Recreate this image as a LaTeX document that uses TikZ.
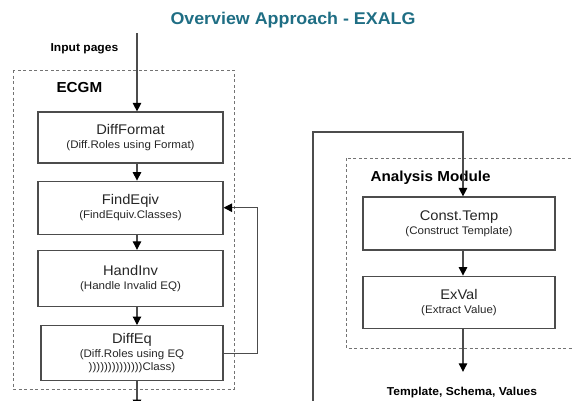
\documentclass[tikz,border=0pt]{standalone}
\usepackage{fontspec}
\setmainfont{Liberation Sans}[FakeStretch=1.05]
\usetikzlibrary{arrows.meta,positioning,calc}
\definecolor{ttlblue}{HTML}{1F6E84}
\newcommand{\mn}[1]{{\fontsize{14}{15}\selectfont #1}}
\newcommand{\subt}[1]{{\fontsize{11}{14.5}\selectfont #1}}

\begin{document}
\begin{tikzpicture}[
  x=1pt,y=1pt,
  box/.style={draw=black!70,line width=1.2pt,minimum width=185pt,align=center,inner sep=2pt,
              text=black!85},
  grp/.style={draw=black!55,line width=1pt,dash pattern=on 3pt off 2.5pt},
  fl/.style={-{Triangle[length=8.5pt,width=8.5pt,color=black]},line width=1.1pt,draw=black!70},
  lbl/.style={font=\bfseries\fontsize{11.5}{13}\selectfont},
  hdr/.style={font=\bfseries\fontsize{14.5}{16}\selectfont,anchor=west}
]
\useasboundingbox (0,0) rectangle (573,-400);

\node[font=\bfseries\fontsize{17}{19}\selectfont,text=ttlblue] (ttl) at (293,-20)
  {Overview Approach - EXALG};

% ECGM
\draw[grp] (13,-70) rectangle (234,-389);
\node[hdr] (ecgm) at (53,-88) {ECGM};
\node[lbl,anchor=west] (inp) at (47,-49) {Input pages};

\node[box,minimum height=51pt] (fmt) at (130.5,-137.5)
  {\mn{DiffFormat}\\[2pt]\subt{(Diff.Roles using Format)}};
\node[box,minimum height=53pt,below=17pt of fmt] (eqv)
  {\mn{FindEqiv}\\[2pt]\subt{(FindEquiv.Classes)}};
\node[box,minimum height=56pt,below=15pt of eqv] (inv)
  {\mn{HandInv}\\[2pt]\subt{(Handle Invalid EQ)}};
\node[box,minimum width=182pt,minimum height=55pt,below=18pt of inv,xshift=1.5pt] (deq)
  {\mn{DiffEq}\\[2pt]\subt{(Diff.Roles using EQ}\\[1pt]\subt{))))))))))))))Class)}};

\coordinate (in) at (137,-33);
\draw[fl] (in) -- (in |- fmt.north);
\foreach \a/\b in {fmt/eqv,eqv/inv,inv/deq} \draw[fl] (in |- \a.south) -- (in |- \b.north);
\draw[fl] (in |- deq.south) -- ++(0,-27);

% feedback
\draw[fl] (deq.east) -- ++(34,0) |- (eqv.east);

% Analysis module
\draw[grp] (346,-158) rectangle (590,-348);
\node[hdr] (am) at (367,-178) {Analysis Module};
\node[box,minimum width=192pt,minimum height=53pt] (tmp) at (459,-223.5)
  {\mn{Const.Temp}\\[2pt]\subt{(Construct Template)}};
\node[box,minimum width=192pt,minimum height=52pt,below=25pt of tmp] (val)
  {\mn{ExVal}\\[2pt]\subt{(Extract Value)}};
\node[lbl] (res) at (462,-393) {Template, Schema, Values};

\coordinate (ret) at (313,-405);
\coordinate (ax) at (463,-132);
\draw[fl] (ret) |- (ax) -- (ax |- tmp.north);
\draw[fl] (ax |- tmp.south) -- (ax |- val.north);
\draw[fl] (ax |- val.south) -- ++(0,-43);

\end{tikzpicture}
\end{document}
